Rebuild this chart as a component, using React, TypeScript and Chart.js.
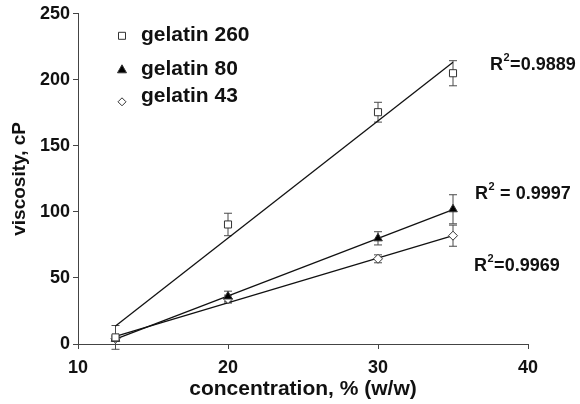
import React, { useEffect, useRef } from "react";
import { Chart, registerables } from "chart.js";

Chart.register(...registerables);

// Measured viscosity (cP) versus gelatin concentration (% w/w)
const concentration = [12.5, 20, 30, 35];
const gelatin260 = [5, 90.5, 175.5, 205];
const gelatin260Err = [9, 8.5, 7.5, 9.5];
const gelatin80 = [4, 36, 80, 102];
const gelatin80Err = [2, 4, 5, 11];
const gelatin43 = [4, 34, 64.5, 82];
const gelatin43Err = [2, 3, 3, 8];

// Linear trend lines, drawn between the lowest and highest concentration
const fitRange = [12.5, 35];
const fit260 = [13.6, 213.3];
const fit80 = [3.7, 101.8];
const fit43 = [5.7, 82.1];

const seriesNames = ["gelatin 260", "gelatin 80", "gelatin 43"];
const rSquaredLabels = ["=0.9889", " = 0.9997", "=0.9969"];

const yTicks = [0, 50, 100, 150, 200, 250];
const xTicks = [10, 20, 30, 40];

const FONT = "'Liberation Sans', Arial, sans-serif";
const INK = "#111111";
const ERR = "#4a4a4a";

const toXY = (xs: number[], ys: number[]) => xs.map((x, i) => ({ x, y: ys[i] }));

function drawMarker(ctx: CanvasRenderingContext2D, style: string, x: number, y: number) {
  ctx.save();
  ctx.lineWidth = 1;
  ctx.strokeStyle = "#333";
  ctx.beginPath();
  if (style === "rect") {
    ctx.rect(x - 3.5, y - 3.5, 7, 7);
    ctx.fillStyle = "#fff";
  } else if (style === "triangle") {
    ctx.moveTo(x, y - 5);
    ctx.lineTo(x + 4.5, y + 3);
    ctx.lineTo(x - 4.5, y + 3);
    ctx.closePath();
    ctx.fillStyle = "#000";
  } else {
    ctx.moveTo(x, y - 4);
    ctx.lineTo(x + 4, y);
    ctx.lineTo(x, y + 4);
    ctx.lineTo(x - 4, y);
    ctx.closePath();
    ctx.fillStyle = "#fff";
  }
  ctx.fill();
  ctx.stroke();
  ctx.restore();
}

// Vertical error bars with short caps, drawn under the markers
const errorBarPlugin = {
  id: "errorBars",
  beforeDatasetsDraw(chart: any) {
    const ctx = chart.ctx as CanvasRenderingContext2D;
    const yScale = chart.scales.y;
    chart.data.datasets.forEach((ds: any, i: number) => {
      if (!ds.errors) return;
      const meta = chart.getDatasetMeta(i);
      ctx.save();
      ctx.strokeStyle = ERR;
      ctx.lineWidth = 1;
      meta.data.forEach((pt: any, j: number) => {
        const v = ds.data[j].y;
        const e = ds.errors[j];
        const top = yScale.getPixelForValue(v + e);
        const bot = yScale.getPixelForValue(v - e);
        const x = pt.x;
        ctx.beginPath();
        ctx.moveTo(x, top);
        ctx.lineTo(x, bot);
        ctx.moveTo(x - 4, top);
        ctx.lineTo(x + 4, top);
        ctx.moveTo(x - 4, bot);
        ctx.lineTo(x + 4, bot);
        ctx.stroke();
      });
      ctx.restore();
    });
  },
};

// Legend inside the plot and the R² notes beside each trend line
const notesPlugin = {
  id: "notes",
  afterDraw(chart: any) {
    const ctx = chart.ctx as CanvasRenderingContext2D;
    const area = chart.chartArea;
    const styles = ["rect", "triangle", "rectRot"];
    const rows = [33, 67, 94];
    ctx.save();
    ctx.fillStyle = INK;
    ctx.textBaseline = "middle";
    ctx.textAlign = "left";
    seriesNames.forEach((name, i) => {
      const y = area.top + rows[i] - 12;
      drawMarker(ctx, styles[i], area.left + 44, y + (i === 2 ? 6 : 1));
      ctx.fillStyle = INK;
      ctx.font = `bold 21px ${FONT}`;
      ctx.fillText(name, area.left + 63, y);
    });

    const spots = [
      { x: 490, y: 65 },
      { x: 475, y: 194 },
      { x: 474, y: 266 },
    ];
    rSquaredLabels.forEach((txt, i) => {
      const { x, y } = spots[i];
      ctx.font = `bold 18px ${FONT}`;
      ctx.fillText("R", x, y);
      const w = ctx.measureText("R").width;
      ctx.font = `bold 11px ${FONT}`;
      ctx.fillText("2", x + w + 0.5, y - 7);
      const w2 = ctx.measureText("2").width;
      ctx.font = `bold 18px ${FONT}`;
      ctx.fillText(txt, x + w + w2 + 1, y);
    });
    ctx.restore();
  },
};

export default function App() {
  const canvasRef = useRef<HTMLCanvasElement | null>(null);

  useEffect(() => {
    document.body.style.margin = "0";
    const canvas = canvasRef.current;
    if (!canvas) return;

    const pointDs = (label: string, ys: number[], errs: number[], style: string, fill: string, radius: number) => ({
      type: "scatter" as const,
      label,
      data: toXY(concentration, ys),
      errors: errs,
      showLine: false,
      pointStyle: style,
      pointRadius: radius,
      pointBackgroundColor: fill,
      pointBorderColor: "#333",
      pointBorderWidth: 1,
      order: 0,
    });
    const fitDs = (label: string, ys: number[]) => ({
      type: "line" as const,
      label,
      data: toXY(fitRange, ys),
      borderColor: INK,
      borderWidth: 1.3,
      pointRadius: 0,
      fill: false,
      tension: 0,
      order: 1,
    });

    const chart = new Chart(canvas, {
      type: "scatter",
      data: {
        datasets: [
          pointDs(seriesNames[0], gelatin260, gelatin260Err, "rect", "#fff", 5),
          pointDs(seriesNames[1], gelatin80, gelatin80Err, "triangle", "#000", 5),
          pointDs(seriesNames[2], gelatin43, gelatin43Err, "rectRot", "#fff", 4.5),
          fitDs("fit 260", fit260),
          fitDs("fit 80", fit80),
          fitDs("fit 43", fit43),
        ] as any,
      },
      options: {
        responsive: false,
        animation: false,
        layout: { padding: { top: 12, right: 52, left: 0, bottom: 0 } },
        plugins: {
          legend: { display: false },
          tooltip: { enabled: false },
        },
        scales: {
          x: {
            type: "linear",
            min: 10,
            max: 40,
            afterBuildTicks: (scale: any) => {
              scale.ticks = xTicks.map((v) => ({ value: v }));
            },
            afterFit: (scale: any) => {
              scale.height = 60;
            },
            grid: {
              display: true,
              drawOnChartArea: false,
              drawTicks: true,
              tickLength: 5,
              color: "#444",
            },
            border: { display: true, color: "#444", width: 1 },
            ticks: {
              padding: 8,
              color: INK,
              font: { family: FONT, size: 18, weight: "bold" },
            },
            title: {
              display: true,
              text: "concentration, % (w/w)",
              color: INK,
              padding: { top: 0, bottom: 2 },
              font: { family: FONT, size: 21, weight: "bold" },
            },
          },
          y: {
            type: "linear",
            min: 0,
            max: 250,
            afterBuildTicks: (scale: any) => {
              scale.ticks = yTicks.map((v) => ({ value: v }));
            },
            afterFit: (scale: any) => {
              scale.width = 78;
            },
            grid: {
              display: true,
              drawOnChartArea: false,
              drawTicks: true,
              tickLength: 5,
              color: "#444",
            },
            border: { display: true, color: "#444", width: 1 },
            ticks: {
              padding: 3,
              color: INK,
              font: { family: FONT, size: 18, weight: "bold" },
            },
            title: {
              display: true,
              text: "viscosity, cP",
              color: INK,
              padding: { top: 8, bottom: 0 },
              font: { family: FONT, size: 19, weight: "bold" },
            },
          },
        },
      } as any,
      plugins: [errorBarPlugin, notesPlugin],
    });

    return () => chart.destroy();
  }, []);

  return (
    <div style={{ width: 580, height: 404, background: "#fff" }}>
      <canvas ref={canvasRef} width={580} height={404} />
    </div>
  );
}
